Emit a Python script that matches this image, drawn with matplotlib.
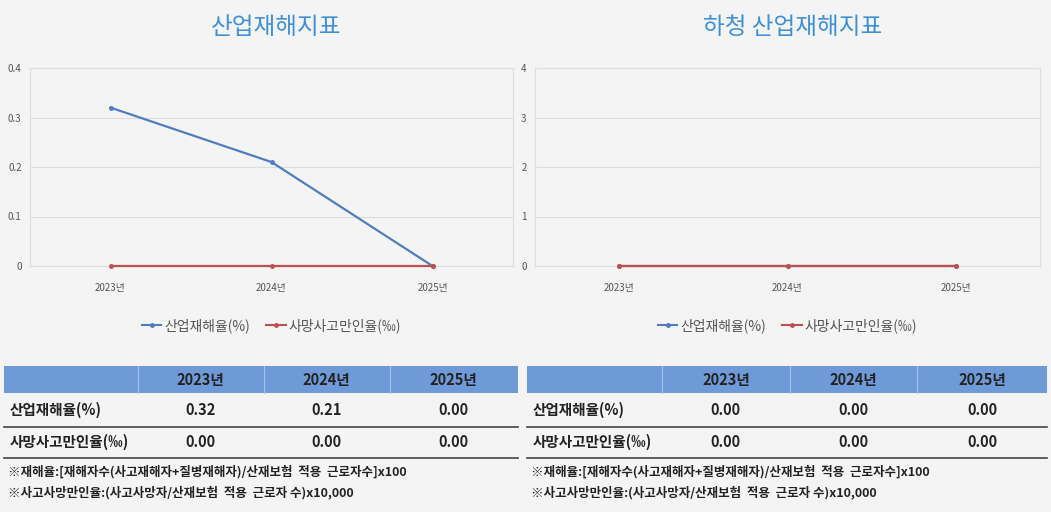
import matplotlib.pyplot as plt
from matplotlib.patches import Rectangle
from matplotlib.lines import Line2D

plt.rcParams['font.family'] = ['Noto Sans CJK KR', 'DejaVu Sans']

years = ['2023년', '2024년', '2025년']
series_names = ['산업재해율(%)', '사망사고만인율(‰)']
titles = ['산업재해지표', '하청 산업재해지표']
main_rate = [0.32, 0.21, 0.00]
main_death = [0.00, 0.00, 0.00]
sub_rate = [0.00, 0.00, 0.00]
sub_death = [0.00, 0.00, 0.00]
ylims = [0.4, 4]
yticks = [[0, 0.1, 0.2, 0.3, 0.4], [0, 1, 2, 3, 4]]
notes = ['※재해율:[재해자수(사고재해자+질병재해자)/산재보험  적용  근로자수]x100',
         '※사고사망만인율:(사고사망자/산재보험  적용  근로자 수)x10,000']

W, H = 1051, 512
blue, red = '#4f7dbf', '#c0504d'
fig = plt.figure(figsize=(W / 100, H / 100), dpi=100, facecolor='#f4f4f4')

def fx(x): return x / W
def fy(y): return 1 - y / H

panels = [(30, 513, 4, 518, main_rate, main_death), (535, 1040, 527, 1047, sub_rate, sub_death)]
for i, (ax0, ax1, t0, t1, rate, death) in enumerate(panels):
    ax = fig.add_axes([fx(ax0), fy(266), fx(ax1 - ax0), (266 - 68) / H])
    ax.set_facecolor('#f4f4f4')
    xs = range(len(years))
    ax.plot(xs, rate, color=blue, lw=1.6, marker='o', ms=2.5, clip_on=False, zorder=3)
    ax.plot(xs, death, color=red, lw=1.6, marker='o', ms=2.5, clip_on=False, zorder=4)
    ax.set_xlim(-0.5, 2.5)
    ax.set_ylim(0, ylims[i])
    ax.set_yticks(yticks[i])
    ax.set_yticklabels([f'{v:g}' for v in yticks[i]], fontsize=7, color='#555555')
    ax.set_xticks(list(xs))
    ax.set_xticklabels(years, fontsize=7, color='#555555')
    ax.tick_params(length=0, pad=12, axis='x')
    ax.tick_params(length=0, pad=6, axis='y')
    ax.grid(axis='y', color='#dddddd', lw=0.8)
    for s in ax.spines.values():
        s.set_color('#dddddd')
    ax.set_axisbelow(True)
    ax.legend([Line2D([], [], color=blue, marker='o', ms=2.5), Line2D([], [], color=red, marker='o', ms=2.5)],
              series_names, loc='upper center', bbox_to_anchor=(0.5, -0.2), ncol=2, frameon=False,
              fontsize=10, labelcolor='#555555', handlelength=1.4, handletextpad=0.2, columnspacing=1.2)
    fig.text(fx((ax0 + ax1) / 2 + 5), fy(28), titles[i], ha='center', va='center', fontsize=17, color='#3d8fd6')

    # table
    w = t1 - t0
    cols = [t0, t0 + 0.26 * w, t0 + 0.505 * w, t0 + 0.75 * w, t1]
    fig.patches.append(Rectangle((fx(t0), fy(393)), fx(w), (393 - 366) / H, transform=fig.transFigure,
                                 facecolor='#6f9ad8', edgecolor='none'))
    for c in cols[1:-1]:
        fig.add_artist(Line2D([fx(c), fx(c)], [fy(393), fy(366)], color='#a8c0e6', lw=0.8))
    for j, yr in enumerate(years):
        fig.text(fx((cols[j + 1] + cols[j + 2]) / 2), fy(380), yr, ha='center', va='center',
                 fontsize=10.5, fontweight='bold', color='#222222')
    for r, (name, vals, yc, yl) in enumerate([(series_names[0], rate, 410, 427), (series_names[1], death, 442, 458)]):
        fig.text(fx(t0 + 6), fy(yc), name, ha='left', va='center', fontsize=10.5, fontweight='bold', color='#222222')
        for j, v in enumerate(vals):
            fig.text(fx((cols[j + 1] + cols[j + 2]) / 2), fy(yc), f'{v:.2f}', ha='center', va='center',
                     fontsize=10.5, fontweight='bold', color='#222222')
        fig.add_artist(Line2D([fx(t0), fx(t1)], [fy(yl), fy(yl)], color='#444444', lw=1.2))
    for k, n in enumerate(notes):
        fig.text(fx(t0 + 4), fy(472 + 20 * k), n, ha='left', va='center', fontsize=9, fontweight='bold', color='#222222')

fig.savefig('out.png', dpi=100, facecolor=fig.get_facecolor())
